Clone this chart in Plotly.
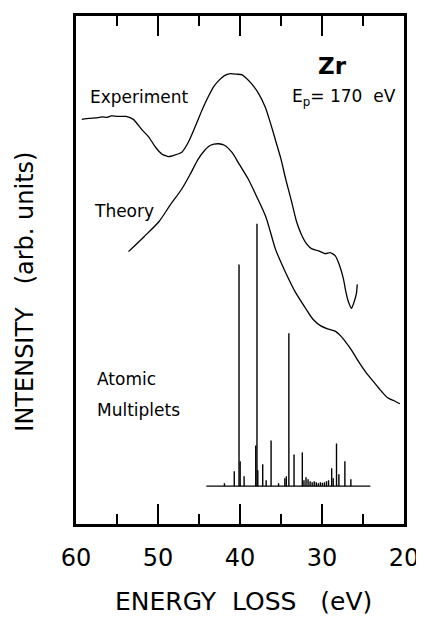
import plotly.graph_objects as go

# ---- data (energy loss in eV, intensity in arb. units) ----
exp_energy = [59.3, 58.4, 57.6, 56.8, 56.2, 55.7, 55.0, 53.9, 53.0, 52.0, 51.1, 50.3,
              49.5, 48.7, 48.0, 47.1, 46.3, 45.4, 44.6, 43.8, 43.2, 42.6, 41.9, 41.2,
              40.4, 39.8, 39.3, 38.6, 37.8, 36.9, 36.2, 35.6, 35.0, 34.4, 33.7, 33.1,
              32.5, 31.9, 31.3, 30.5, 29.6, 29.0, 28.4, 27.9, 27.4, 27.1, 26.8, 26.4,
              26.1, 25.8, 25.7]
exp_intensity = [407, 408, 408.5, 409.5, 409, 410.5, 410, 410, 407, 397, 389, 379,
                 372, 369.5, 371, 374, 384, 401, 417, 431, 440, 446, 451, 453,
                 452.5, 452, 449, 443, 434, 419, 401, 384, 367, 346, 324, 304,
                 291, 282, 277, 275, 272, 273, 270, 261, 247, 234, 224, 217,
                 223, 232, 241]

theory_energy = [53.6, 51.7, 49.9, 48.5, 47.1, 46.0, 45.1, 44.3, 43.6, 42.6, 41.9, 41.0,
                 40.1, 39.0, 38.0, 36.9, 36.3, 35.7, 35.1, 34.5, 33.3, 32.0, 31.1, 30.1,
                 29.2, 28.4, 27.7, 27.2, 26.4, 25.6, 24.6, 23.5, 22.7, 22.0, 21.2, 20.5]
theory_intensity = [274, 289, 304, 321, 337, 353, 367, 376, 381, 382.5, 381, 374,
                    362, 347, 330, 310, 294, 277, 265, 254, 234, 217, 206, 199,
                    196, 194, 189, 184, 175, 164, 152, 141, 133, 127, 124, 121]

multiplet_baseline = 38
multiplet_range = [44.1, 24.1]
multiplet_energy = [41.9, 40.7, 40.12, 39.98, 39.5, 38.08, 37.93, 37.83, 37.23, 36.81,
                    36.21, 35.3, 34.53, 34.35, 34.04, 33.41, 32.4,
                    32.2, 31.95, 31.7, 31.45, 31.2, 30.95, 30.7, 30.45, 30.2, 29.95,
                    29.7, 29.45, 29.2,
                    28.82, 28.63, 28.23, 27.94, 27.21, 26.48]
multiplet_intensity = [41, 53, 261, 63, 48, 79, 302, 54, 60, 44,
                       84, 41, 46, 48, 192, 70, 72,
                       44, 47, 45, 43, 42, 43, 42, 41, 42, 41.5,
                       42, 43, 44,
                       56, 46, 81, 50, 63, 45]

x_major_ticks = [60, 50, 40, 30, 20]
x_minor_ticks = [55, 45, 35, 25]

# ---- build figure ----
stick_x, stick_y = [], []
for e, h in zip(multiplet_energy, multiplet_intensity):
    stick_x += [e, e, None]
    stick_y += [multiplet_baseline, h, None]

fig = go.Figure()
fig.add_trace(go.Scatter(x=exp_energy, y=exp_intensity, mode="lines",
                         line=dict(color="black", width=1.3, shape="spline", smoothing=0.5)))
fig.add_trace(go.Scatter(x=theory_energy, y=theory_intensity, mode="lines",
                         line=dict(color="black", width=1.3, shape="spline", smoothing=0.8)))
fig.add_trace(go.Scatter(x=multiplet_range, y=[multiplet_baseline] * 2, mode="lines",
                         line=dict(color="black", width=1.3)))
fig.add_trace(go.Scatter(x=stick_x, y=stick_y, mode="lines",
                         line=dict(color="black", width=1.4)))

OFF = 8  # page body margin of the browser
W, H = 424 - OFF, 618 - OFF
L, R, T, B = 76 - OFF, 18, 13 - OFF, 94
pw, ph = W - L - R, H - T - B


def px(x):
    return (x - OFF - L) / pw


def py(y):
    return (H - B - (y - OFF)) / ph


font = "DejaVu Sans"
ann = [
    dict(text="<b>Zr</b>", x=px(334), y=py(63), size=23, xanchor="center"),
    dict(text="E<sub>p</sub>= 170\u00a0\u00a0eV", x=px(291), y=py(95), size=17, xanchor="left"),
    dict(text="Experiment", x=px(88), y=py(94), size=17, xanchor="left"),
    dict(text="Theory", x=px(92), y=py(209), size=17, xanchor="left"),
    dict(text="Atomic", x=px(95), y=py(378), size=17, xanchor="left"),
    dict(text="Multiplets", x=px(95), y=py(409), size=17, xanchor="left"),
    dict(text="ENERGY\u00a0\u00a0LOSS\u00a0\u00a0\u00a0(eV)", x=px(245), y=py(602), size=25, xanchor="center"),
]
annotations = []
for a in ann:
    annotations.append(dict(text=a["text"], x=a["x"], y=a["y"], xref="paper", yref="paper",
                            xanchor=a["xanchor"], yanchor="middle", showarrow=False,
                            font=dict(family=font, size=a["size"], color="black")))
annotations.append(dict(text="INTENSITY\u00a0\u00a0\u00a0(arb. units)", x=px(25), y=py(290),
                        xref="paper", yref="paper", xanchor="center", yanchor="middle",
                        textangle=-90, showarrow=False,
                        font=dict(family=font, size=24, color="black")))

fig.update_layout(
    width=W, height=H, margin=dict(l=L, r=R, t=T, b=B),
    paper_bgcolor="white", plot_bgcolor="white", showlegend=False,
    font=dict(family=font, color="black"),
    annotations=annotations,
    xaxis=dict(range=[60, 20], tickvals=x_major_ticks, ticks="inside", ticklen=20,
               tickwidth=1.5, tickcolor="black", showline=True, linewidth=2.5,
               linecolor="black", mirror="ticks", showgrid=False, zeroline=False,
               ticklabelstandoff=10,
               tickfont=dict(family=font, size=24, color="black"),
               minor=dict(tickvals=x_minor_ticks, ticks="inside", ticklen=10,
                          tickwidth=1.5, tickcolor="black", showgrid=False)),
    yaxis=dict(range=[0, 511], showline=True, linewidth=2.5, linecolor="black",
               mirror=True, showgrid=False, zeroline=False, showticklabels=False,
               ticks=""),
)

fig.write_html("out.html")
